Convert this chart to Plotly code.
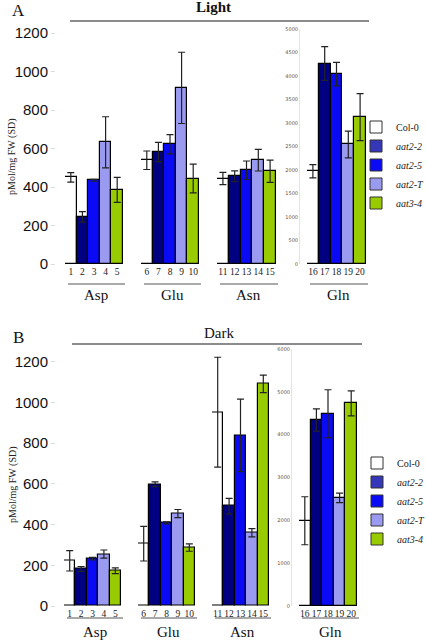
import plotly.graph_objects as go

W, H = 426, 640

# ---------------- data ----------------
lines = ["Col-0", "aat2-2", "aat2-5", "aat2-T", "aat3-4"]
bar_colors = ["#ffffff", "#000080", "#0a0af5", "#9a9af0", "#99cc00"]
legend_colors = ["#ffffff", "#3636b8", "#0a0af5", "#9a9af0", "#99cc00"]
groups = ["Asp", "Glu", "Asn", "Gln"]
bar_numbers = [[str(i) for i in range(1, 6)], [str(i) for i in range(6, 11)],
               [str(i) for i in range(11, 16)], [str(i) for i in range(16, 21)]]

light_asp = [450, 245, 435, 632, 385]
light_asp_sd = [25, 27, 5, 133, 65]
light_glu = [539, 582, 622, 915, 444]
light_glu_sd = [48, 50, 50, 185, 75]
light_asn = [444, 456, 487, 539, 482]
light_asn_sd = [32, 28, 48, 56, 58]
light_gln = [1973, 4266, 4038, 2543, 3127]
light_gln_sd = [140, 360, 250, 285, 500]

dark_asp = [222, 182, 233, 255, 173]
dark_asp_sd = [50, 12, 6, 20, 14]
dark_glu = [306, 598, 408, 454, 287]
dark_glu_sd = [85, 12, 5, 20, 18]
dark_asn = [952, 491, 838, 360, 1091]
dark_asn_sd = [270, 38, 178, 20, 43]
dark_gln = [1990, 4341, 4489, 2525, 4731]
dark_gln_sd = [560, 260, 560, 110, 290]

left_ticks = [0, 200, 400, 600, 800, 1000, 1200]
gln_ticks_light = list(range(0, 5001, 500))
gln_ticks_dark = list(range(0, 6001, 1000))

SERIF = "Liberation Serif, Times New Roman, serif"
SANS = "Liberation Sans, Arial, sans-serif"


def fx(x):
    return x / W


def fy(y):
    return 1 - y / H


fig = go.Figure()

panels = [
    dict(name="light", data=[(light_asp, light_asp_sd), (light_glu, light_glu_sd),
                             (light_asn, light_asn_sd), (light_gln, light_gln_sd)],
         xdom=[(65, 123), (141, 199), (217, 276), (307, 366)],
         bottom=264, ltop=33, lrange=[0, 1200], gtop=29, grange=[0, 5000],
         gticks=gln_ticks_light, gpos=299, axes=["x", "x2", "x3", "x4"], ly="y", gy="y2",
         legend="legend", underline_y=284, label_y=295),
    dict(name="dark", data=[(dark_asp, dark_asp_sd), (dark_glu, dark_glu_sd),
                            (dark_asn, dark_asn_sd), (dark_gln, dark_gln_sd)],
         xdom=[(64, 121), (138, 195), (212, 269), (299, 357)],
         bottom=606, ltop=353.6, lrange=[0, 1240], gtop=349, grange=[0, 6000],
         gticks=gln_ticks_dark, gpos=291, axes=["x5", "x6", "x7", "x8"], ly="y3", gy="y4",
         legend="legend2", underline_y=618, label_y=632),
]

layout = dict(width=W, height=H,
              margin=dict(l=0, r=0, t=0, b=0, pad=0, autoexpand=False),
              paper_bgcolor="white", plot_bgcolor="rgba(0,0,0,0)",
              barmode="overlay", bargap=0, showlegend=True)
shapes = []
annotations = []

for p in panels:
    for gi, (vals, sds) in enumerate(p["data"]):
        xa = p["axes"][gi]
        ya = p["gy"] if gi == 3 else p["ly"]
        fig.add_trace(go.Bar(
            x=bar_numbers[gi], y=vals, xaxis=xa, yaxis=ya,
            marker=dict(color=bar_colors, line=dict(color="#000", width=1.2)),
            error_y=dict(type="data", array=sds, color="#222", thickness=1.2, width=3.5),
            showlegend=False, width=1, cliponaxis=False))
        xkey = "xaxis" + xa[1:]
        d0, d1 = p["xdom"][gi]
        layout[xkey] = dict(domain=[fx(d0), fx(d1)], anchor=ya, type="category",
                            range=[-0.5, 4.5], showgrid=False, zeroline=False,
                            showline=False, ticks="", fixedrange=True,
                            tickmode="array", tickvals=bar_numbers[gi],
                            ticktext=bar_numbers[gi], tickangle=0,
                            tickfont=dict(family=SERIF, size=9.5, color="#222"))
        # underline under numbers
        shapes.append(dict(type="line", xref="paper", yref="paper",
                           x0=fx(d0 + 3), x1=fx(d1 + 2), y0=fy(p["underline_y"]),
                           y1=fy(p["underline_y"]), line=dict(color="#555", width=1)))
        annotations.append(dict(text=groups[gi], xref="paper", yref="paper",
                                x=fx((d0 + d1) / 2 + 2), y=fy(p["label_y"]),
                                showarrow=False, xanchor="center", yanchor="middle",
                                font=dict(family=SERIF, size=15, color="#111")))
    lykey = "yaxis" + (p["ly"][1:])
    gykey = "yaxis" + (p["gy"][1:])
    layout[lykey] = dict(domain=[fy(p["bottom"]), fy(p["ltop"])], range=p["lrange"],
                         anchor="free", position=fx(55), side="left",
                         tickvals=left_ticks, ticks="outside", ticklen=4,
                         tickcolor="#ddd", showgrid=False, zeroline=False,
                         showline=False, fixedrange=True,
                         tickfont=dict(family=SANS, size=15, color="#111"))
    layout[gykey] = dict(domain=[fy(p["bottom"]), fy(p["gtop"])], range=p["grange"],
                         anchor="free", position=fx(p["gpos"]), side="left",
                         tickvals=p["gticks"], ticks="", showgrid=False,
                         zeroline=False, showline=True, linecolor="#e4e4e4",
                         linewidth=1, fixedrange=True,
                         tickfont=dict(family="DejaVu Sans, sans-serif", size=5,
                                       color="#555"))
    # legend entries
    for li, name in enumerate(lines):
        label = name if li == 0 else "<i>" + name + "</i>"
        fig.add_trace(go.Bar(x=[None], y=[None], xaxis=p["axes"][3], yaxis=p["gy"],
                             name=label, legend=p["legend"],
                             marker=dict(color=legend_colors[li],
                                         line=dict(color="#333", width=1)),
                             showlegend=True))

layout["legend"] = dict(x=fx(356), y=fy(165), xanchor="left", yanchor="middle",
                        bgcolor="rgba(0,0,0,0)", borderwidth=0, tracegroupgap=0,
                        font=dict(family=SERIF, size=10, color="#222"),
                        itemwidth=30)
layout["legend2"] = dict(x=fx(357), y=fy(501), xanchor="left", yanchor="middle",
                         bgcolor="rgba(0,0,0,0)", borderwidth=0, tracegroupgap=0,
                         font=dict(family=SERIF, size=10, color="#222"),
                         itemwidth=30)

# panel headings and lines
shapes.append(dict(type="line", xref="paper", yref="paper", x0=fx(70), x1=fx(369),
                   y0=fy(21), y1=fy(21), line=dict(color="#666", width=1.5)))
shapes.append(dict(type="line", xref="paper", yref="paper", x0=fx(72), x1=fx(362),
                   y0=fy(344), y1=fy(344), line=dict(color="#666", width=1.5)))


def ann(text, x, y, size, angle=0, color="#111"):
    return dict(text=text, xref="paper", yref="paper", x=fx(x), y=fy(y),
                xanchor="center", yanchor="middle", textangle=angle,
                showarrow=False, font=dict(family=SERIF, size=size, color=color))


annotations += [
    ann("<b>Light</b>", 213, 7, 15),
    ann("Dark", 219, 333, 15),
    ann("A", 18, 10, 17),
    ann("B", 18, 337, 17),
    ann("pMol/mg FW (SD)", 12, 157, 10, -90, "#222"),
    ann("pMol/mg FW (SD)", 13, 485, 10, -90, "#222"),
]
layout["shapes"] = shapes
layout["annotations"] = annotations

fig.update_layout(**layout)
fig.write_html(
    "out.html",
    config={"displayModeBar": False},
    post_script="document.body.style.margin='0';document.body.style.overflow='hidden';",
)
